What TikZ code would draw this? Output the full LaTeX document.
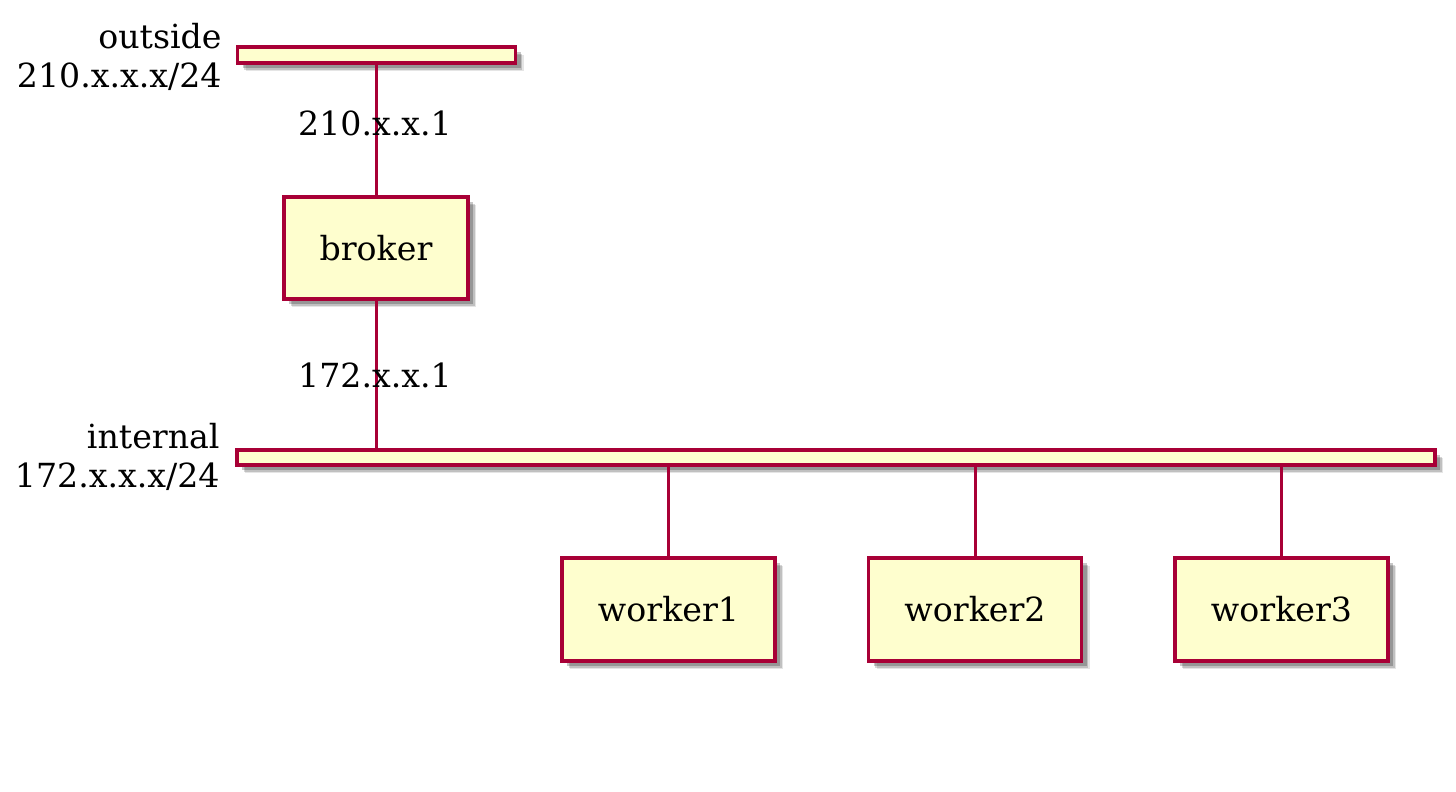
\documentclass[tikz,border=0pt]{standalone}
\usepackage{fontspec}
\setmainfont{DejaVu Serif}
\usetikzlibrary{shadows}
\definecolor{pborder}{HTML}{A80036}
\definecolor{pfill}{HTML}{FEFECE}
\tikzset{
  x=0.5pt,y=-0.5pt,
  shadeA/.style={drop shadow={shadow xshift=4pt,shadow yshift=-4pt,fill=black,opacity=0.10}},
  shadeB/.style={drop shadow={shadow xshift=3.3pt,shadow yshift=-3.3pt,fill=black,opacity=0.16}},
  shadeC/.style={drop shadow={shadow xshift=2.6pt,shadow yshift=-2.6pt,fill=black,opacity=0.22}},
  hostbox/.style={draw=pborder,fill=pfill,line width=1.6pt,rectangle,inner sep=0pt,
    font=\fontsize{16.6}{19}\selectfont,shadeA,shadeB,shadeC},
  netbar/.style={draw=pborder,fill=pfill,line width=1.6pt,rectangle,inner sep=0pt,shadeA,shadeB,shadeC},
  netlabel/.style={align=right,anchor=east,inner sep=0pt,font=\fontsize{16.6}{19.5}\selectfont},
  iplabel/.style={inner sep=0pt,font=\fontsize{16.6}{19}\selectfont},
  link/.style={draw=pborder,line width=1.5pt},
}
\begin{document}
\begin{tikzpicture}
\useasboundingbox (0,0) rectangle (1456,792);
% networks
\node[netbar,minimum width=139pt,minimum height=8pt] (outside) at (376.5,55) {};
\node[netbar,minimum width=599pt,minimum height=7.5pt] (internal) at (836,457.5) {};
\node[netlabel] (outsidelbl) at (222,57) {outside\\210.x.x.x/24};
\node[netlabel] (internallbl) at (220,457) {internal\\172.x.x.x/24};
% hosts
\node[hostbox,minimum width=92pt,minimum height=51pt] (broker) at (376,248) {broker};
\node[hostbox,minimum width=106.5pt,minimum height=51.5pt] (worker1) at (668.5,609.5) {worker1};
\node[hostbox,minimum width=106.5pt,minimum height=51.5pt] (worker2) at (975,609.5) {worker2};
\node[hostbox,minimum width=106.5pt,minimum height=51.5pt] (worker3) at (1281.5,609.5) {worker3};
% links
\draw[link] (broker.north |- outside.south) -- (broker.north);
\draw[link] (broker.south) -- (broker.south |- internal.north);
\draw[link] (worker1.north |- internal.south) -- (worker1.north);
\draw[link] (worker2.north |- internal.south) -- (worker2.north);
\draw[link] (worker3.north |- internal.south) -- (worker3.north);
% addresses
\node[iplabel] (ipout) at (375,123) {210.x.x.1};
\node[iplabel] (ipin) at (375,375) {172.x.x.1};
\end{tikzpicture}
\end{document}
